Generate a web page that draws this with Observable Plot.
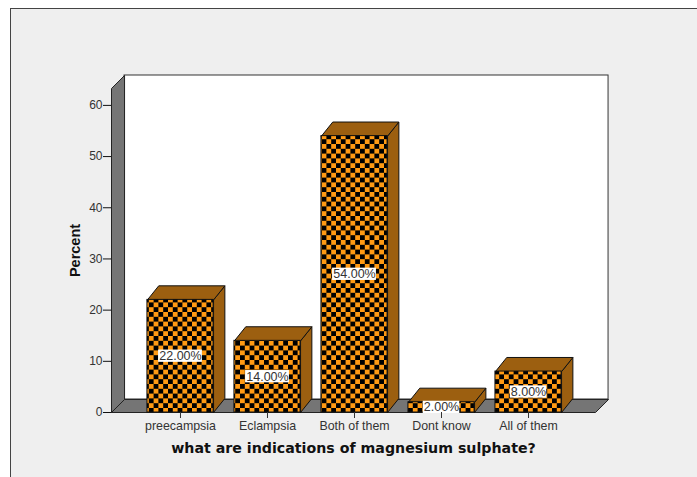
<!DOCTYPE html>
<html><head><meta charset="utf-8">
<script src="https://cdn.jsdelivr.net/npm/d3@7"></script>
<script src="https://cdn.jsdelivr.net/npm/@observablehq/plot@0.6"></script>
<style>
html,body{margin:0;padding:0;background:#fff;width:697px;height:477px;overflow:hidden}
#panel{position:absolute;left:10px;top:8px;width:687px;height:469px;background:#efefef;border-left:1px solid #444;border-top:1px solid #444;box-sizing:border-box}
#chart{position:absolute;left:0;top:0}
</style></head><body>
<div id="panel"></div><div id="chart"></div>
<script>
const categories = ["preecampsia","Eclampsia","Both of them","Dont know","All of them"];
const percents = [22,14,54,2,8];
const barLabels = ["22.00%","14.00%","54.00%","2.00%","8.00%"];
const yTicks = [0,10,20,30,40,50,60];
const xTitle = "what are indications of magnesium sulphate?";
const yTitle = "Percent";

const xMin=-0.793, xMax=4.77, yMax=63.3, dX=0.15, dY=2.54, half=0.38, bX=0.13, bY=2.75;
const poly=(id,pts)=>pts.concat([pts[0]]).map(([x,y])=>({id,x,y}));
const walls=(pts,fill,stroke)=>Plot.line(pts,{x:"x",y:"y",z:"id",fill,stroke,strokeWidth:1,curve:"linear"});

const bars=percents.map((v,i)=>({i,v,c:categories[i],l:barLabels[i]}));
const tops=bars.flatMap(b=>poly("t"+b.i,[[b.i-half,b.v],[b.i+half,b.v],[b.i+half+bX,b.v+bY],[b.i-half+bX,b.v+bY]]));
const sides=bars.flatMap(b=>poly("s"+b.i,[[b.i+half,0],[b.i+half+bX,bY],[b.i+half+bX,b.v+bY],[b.i+half,b.v]]));

const chart=Plot.plot({
  width:697,height:477,marginLeft:111,marginRight:102,marginTop:88,marginBottom:65,
  style:{background:"transparent",fontFamily:"'Liberation Sans',Arial,sans-serif",overflow:"visible"},
  x:{type:"linear",domain:[xMin,xMax]},
  y:{domain:[0,yMax]},
  marks:[
    Plot.rect([0],{x1:xMin+dX,x2:xMax+dX,y1:dY,y2:yMax+dY,fill:"#fff",stroke:"#333"}),
    walls(poly("left",[[xMin,0],[xMin+dX,dY],[xMin+dX,yMax+dY],[xMin,yMax]]),"#757575","#222"),
    walls(poly("floor",[[xMin,0],[xMax,0],[xMax+dX,dY],[xMin+dX,dY]]),"#757575","#222"),
    walls(sides,"#9c5f10","#111"),
    walls(tops,"#9c5f10","#111"),
    Plot.rect(bars,{x1:d=>d.i-half,x2:d=>d.i+half,y1:0,y2:"v",fill:"url(#checker)",stroke:"#111"}),
    Plot.rect(bars,{x1:d=>d.i-d.l.length*0.042,x2:d=>d.i+d.l.length*0.042,y1:d=>d.v/2-1.2,y2:d=>d.v/2+1.2,fill:"#fff"}),
    Plot.text(bars,{x:"i",y:d=>d.v/2,text:"l",fontSize:12.5,fill:"#333"}),
    Plot.axisY({ticks:yTicks,tickSize:8,tickPadding:1,label:null,fontSize:12,color:"#333",stroke:"#111"}),
    Plot.axisX({ticks:[0,1,2,3,4],tickFormat:i=>categories[i],tickSize:6,tickPadding:3,label:null,fontSize:12.4,color:"#333"}),
    Plot.text([xTitle],{frameAnchor:"bottom",dy:40,fontFamily:"'DejaVu Sans',sans-serif",fontWeight:"bold",fontSize:14.2,fill:"#111",text:d=>d}),
    Plot.text([yTitle],{frameAnchor:"left",textAnchor:"middle",dx:-36,rotate:-90,fontWeight:"bold",fontSize:14.5,fill:"#111",text:d=>d})
  ]
});
const ns="http://www.w3.org/2000/svg";
const defs=document.createElementNS(ns,"defs");
defs.innerHTML='<pattern id="checker" patternUnits="userSpaceOnUse" width="9.6" height="9.6"><rect width="9.6" height="9.6" fill="#ff9a14"/><rect width="4.8" height="4.8" fill="#000"/><rect x="4.8" y="4.8" width="4.8" height="4.8" fill="#000"/></pattern>';
chart.insertBefore(defs,chart.firstChild);
document.getElementById("chart").append(chart);
</script></body></html>
